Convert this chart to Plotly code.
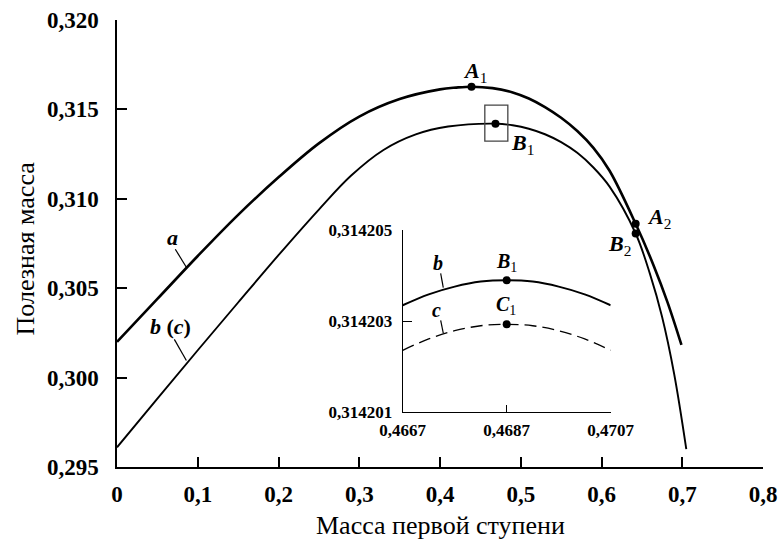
import plotly.graph_objects as go

# ---------------- data ----------------
# main chart, curve a
a_x = [0.0, 0.05, 0.10, 0.15, 0.20, 0.25, 0.30, 0.35, 0.40, 0.42, 0.439, 0.465, 0.49, 0.51, 0.53, 0.55, 0.57, 0.59, 0.61, 0.6423, 0.665, 0.682, 0.699]
a_y = [0.3020, 0.3044, 0.3068, 0.3091, 0.3112, 0.3131, 0.3146, 0.31558, 0.31612, 0.31622, 0.31627, 0.31619, 0.31595, 0.31561, 0.31513, 0.31453, 0.31379, 0.31285, 0.31157, 0.3086, 0.30622, 0.30418, 0.30183]
# main chart, curve b (c)
b_x = [0.0, 0.05, 0.10, 0.15, 0.20, 0.25, 0.29, 0.33, 0.37, 0.41, 0.4687, 0.49, 0.51, 0.53, 0.55, 0.57, 0.59, 0.61, 0.6423, 0.66, 0.675, 0.69, 0.705]
b_y = [0.2961, 0.29883, 0.30153, 0.30420, 0.30685, 0.30940, 0.31130, 0.31273, 0.31360, 0.31404, 0.314204, 0.31411, 0.31392, 0.31361, 0.31317, 0.31257, 0.31175, 0.31068, 0.30806, 0.3058, 0.3034, 0.3002, 0.2960]
# marked points on the main chart
pts_main_names = ["A1", "B1", "A2", "B2"]
pts_main_x = [0.439, 0.4687, 0.6423, 0.6423]
pts_main_y = [0.31627, 0.314204, 0.3086, 0.30806]

# inset (zoom of box around B1)
in_x = [0.4667, 0.4672, 0.4677, 0.4682, 0.4687, 0.4692, 0.4697, 0.4702, 0.4707]
in_b = [0.31420335, 0.31420359, 0.31420376, 0.31420387, 0.31420390, 0.31420387, 0.31420376, 0.31420359, 0.31420335]
in_c = [0.31420236, 0.31420261, 0.31420279, 0.31420290, 0.31420293, 0.31420290, 0.31420279, 0.31420261, 0.31420236]
pts_in_names = ["B1", "C1"]
pts_in_x = [0.4687, 0.4687]
pts_in_y = [0.31420390, 0.31420293]

# ticks
x_ticks = [0, 0.1, 0.2, 0.3, 0.4, 0.5, 0.6, 0.7, 0.8]
x_tick_labels = ["0", "0,1", "0,2", "0,3", "0,4", "0,5", "0,6", "0,7", "0,8"]
y_ticks = [0.295, 0.300, 0.305, 0.310, 0.315, 0.320]
y_tick_labels = ["0,295", "0,300", "0,305", "0,310", "0,315", "0,320"]
in_x_ticks = [0.4667, 0.4687, 0.4707]
in_x_tick_labels = ["0,4667", "0,4687", "0,4707"]
in_y_ticks = [0.314201, 0.314203, 0.314205]
in_y_tick_labels = ["0,314201", "0,314203", "0,314205"]

x_title = "Масса первой ступени"
y_title = "Полезная масса"

FONT = "Liberation Serif, Times New Roman, DejaVu Serif, serif"

fig = go.Figure()

fig.add_trace(go.Scatter(x=a_x, y=a_y, mode="lines", line=dict(color="black", width=2.6, shape="spline", smoothing=1.0),
                         xaxis="x", yaxis="y", hoverinfo="skip"))
fig.add_trace(go.Scatter(x=b_x, y=b_y, mode="lines", line=dict(color="black", width=1.9, shape="spline", smoothing=1.0),
                         xaxis="x", yaxis="y", hoverinfo="skip"))
fig.add_trace(go.Scatter(x=pts_main_x, y=pts_main_y, mode="markers", marker=dict(color="black", size=8),
                         xaxis="x", yaxis="y", hoverinfo="skip"))

fig.add_trace(go.Scatter(x=in_x, y=in_b, mode="lines", line=dict(color="black", width=2.0, shape="spline"),
                         xaxis="x2", yaxis="y2", hoverinfo="skip"))
fig.add_trace(go.Scatter(x=in_x, y=in_c, mode="lines", line=dict(color="black", width=1.3, shape="spline", dash="12px,6px"),
                         xaxis="x2", yaxis="y2", hoverinfo="skip"))
fig.add_trace(go.Scatter(x=pts_in_x, y=pts_in_y, mode="markers", marker=dict(color="black", size=8),
                         xaxis="x2", yaxis="y2", hoverinfo="skip"))

tickfont_main = dict(family=FONT, size=23, color="black", weight="bold")
tickfont_in = dict(family=FONT, size=17, color="black", weight="bold")

common = dict(showgrid=False, zeroline=False, automargin=False, mirror=False, showline=True,
              linecolor="black", tickcolor="black", ticks="inside")

fig.update_layout(
    template="none",
    width=783, height=539,
    margin=dict(l=117, r=20, t=20, b=72, pad=0),
    paper_bgcolor="white", plot_bgcolor="white",
    showlegend=False,
    font=dict(family=FONT, color="black"),
    xaxis=dict(domain=[0, 1], range=[0, 0.8], tickvals=x_ticks, ticktext=x_tick_labels,
               ticklen=10, tickwidth=1.5, linewidth=1.5,
               tickfont=tickfont_main, ticklabelstandoff=6, **common),
    yaxis=dict(domain=[0, 1], range=[0.295, 0.320], tickvals=y_ticks, ticktext=y_tick_labels,
               ticklen=10, tickwidth=1.5, linewidth=1.5,
               tickfont=tickfont_main, ticklabelstandoff=12, **common),
    xaxis2=dict(domain=[0.4423, 0.7642], anchor="y2", range=[0.4667, 0.4707],
                tickvals=in_x_ticks, ticktext=in_x_tick_labels,
                ticklen=7, tickwidth=1.3, linewidth=1.3,
                tickfont=tickfont_in, ticklabelstandoff=2, **common),
    yaxis2=dict(domain=[0.1227, 0.5297], anchor="x2", range=[0.314201, 0.314205],
                tickvals=in_y_ticks, ticktext=in_y_tick_labels,
                ticklen=9, tickwidth=1.3, linewidth=1.3,
                tickfont=tickfont_in, ticklabelstandoff=6, **common),
)

lab_font = dict(family=FONT, size=22, color="black")
sm_font = dict(family=FONT, size=20, color="black")

def lbl(letter, sub=None):
    s = "<b><i>%s</i></b>" % letter
    if sub:
        s += "<sub>%s</sub>" % sub
    return s

annots = [
    dict(x=0.4428, y=0.31709, xref="x", yref="y", text=lbl("A", "1"), font=lab_font),
    dict(x=0.5022, y=0.31308, xref="x", yref="y", text=lbl("B", "1"), font=lab_font),
    dict(x=0.6707, y=0.30891, xref="x", yref="y", text=lbl("A", "2"), font=lab_font),
    dict(x=0.6224, y=0.30740, xref="x", yref="y", text=lbl("B", "2"), font=lab_font),
    dict(x=0.0685, y=0.30785, xref="x", yref="y", text=lbl("a"), font=lab_font),
    dict(x=0.066, y=0.30287, xref="x", yref="y", text="<b><i>b</i> (<i>c</i>)</b>", font=lab_font),
    dict(x=0.46738, y=0.31420427, xref="x2", yref="y2", text=lbl("b"), font=sm_font),
    dict(x=0.46735, y=0.31420324, xref="x2", yref="y2", text=lbl("c"), font=sm_font),
    dict(x=0.4687, y=0.3142043, xref="x2", yref="y2", text=lbl("B", "1"), font=sm_font),
    dict(x=0.46869, y=0.31420335, xref="x2", yref="y2", text=lbl("C", "1"), font=sm_font),
    dict(x=0.5, y=-0.131, xref="paper", yref="paper", text=x_title, font=dict(family=FONT, size=26, color="black")),
    dict(x=-0.1424, y=0.489, xref="paper", yref="paper", text=y_title, textangle=-90,
         font=dict(family=FONT, size=26, color="black")),
]
for a in annots:
    a.setdefault("showarrow", False)
    a.setdefault("xanchor", "center")
    a.setdefault("yanchor", "middle")
fig.update_layout(annotations=annots)

shapes = [
    # box around B1
    dict(type="rect", xref="x", yref="y", x0=0.4555, x1=0.484, y0=0.31323, y1=0.31524,
         line=dict(color="#444", width=1.3)),
    # leader lines
    dict(type="line", xref="x", yref="y", x0=0.0722, y0=0.30718, x1=0.0859, y1=0.30617, line=dict(color="black", width=1.2)),
    dict(type="line", xref="x", yref="y", x0=0.071, y0=0.30214, x1=0.0859, y1=0.30096, line=dict(color="black", width=1.2)),
    dict(type="line", xref="x2", yref="y2", x0=0.46743, y0=0.31420405, x1=0.46748, y1=0.31420374, line=dict(color="black", width=1.2)),
    dict(type="line", xref="x2", yref="y2", x0=0.46743, y0=0.31420302, x1=0.46748, y1=0.31420274, line=dict(color="black", width=1.2)),
]
fig.update_layout(shapes=shapes)

fig.write_html("out.html", config={"displayModeBar": False},
               post_script="document.body.style.margin='0';document.body.style.padding='0';")
